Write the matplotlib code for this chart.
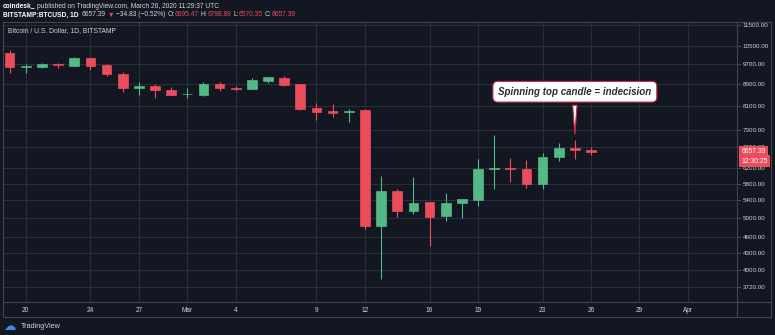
import matplotlib
matplotlib.use("Agg")
import matplotlib.pyplot as plt
import matplotlib.dates as mdates
import matplotlib.transforms as mtransforms
from matplotlib.ticker import NullLocator
import numpy as np
import pandas as pd

plt.rcParams['font.family'] = ['Liberation Sans Narrow', 'Liberation Sans', 'DejaVu Sans']

# daily BTC/USD candles, Bitstamp, 19 Feb - 26 Mar 2020
dates = pd.date_range("2020-02-19", "2020-03-26", freq="D")
opens = [10175, 9590, 9605, 9715, 9650, 9955, 9660, 9305, 8772, 8823, 8697, 8525,
         8500, 8925, 8760, 8735, 9041, 9159, 8900, 8036, 7944, 7887, 7967, 4832,
         5620, 5162, 5359, 5045, 5336, 5406, 6179, 6210, 6185, 5799, 6495, 6773,
         6695.47]
highs = [10320, 9715, 9770, 9743, 10027, 10027, 9700, 9372, 8977, 8900, 8798, 8747,
         8977, 8977, 8849, 9159, 9198, 9225, 8910, 8200, 8176, 8002, 7990, 5995,
         5661, 5969, 5359, 5571, 5440, 6442, 7154, 6470, 6423, 6620, 6903, 7001,
         6798.89]
lows = [9330, 9358, 9535, 9563, 9646, 9467, 9238, 8623, 8500, 8403, 8490, 8403,
        8475, 8647, 8647, 8722, 8951, 8836, 7979, 7622, 7731, 7566, 4765, 3851,
        5030, 5096, 4427, 4944, 5002, 5268, 5661, 5849, 5700, 5670, 6395, 6442,
        6570.35]
closes = [9580, 9646, 9715, 9660, 9955, 9620, 9292, 8772, 8836, 8697, 8500, 8548,
          8925, 8747, 8735, 9080, 9172, 8886, 8013, 7909, 7865, 7944, 4832, 5620,
          5162, 5343, 5024, 5336, 5422, 6179, 6210, 6185, 5799, 6498, 6773, 6692.22,
          6657.39]

price_ticks = [3720, 4000, 4300, 4600, 5000, 5400, 5800, 6200, 6800, 7300, 8100,
               8900, 9700, 10500, 11500]
date_ticks = ["2020-02-20", "2020-02-24", "2020-02-27", "2020-03-01", "2020-03-04",
              "2020-03-09", "2020-03-12", "2020-03-16", "2020-03-19", "2020-03-23",
              "2020-03-26", "2020-03-29", "2020-04-01"]
date_labels = ["20", "24", "27", "Mar", "4", "9", "12", "16", "19", "23", "26", "29", "Apr"]

BG = "#131722"
GRID = "#2a2e39"
BORDER = "#434651"
UP = "#53b987"
DOWN = "#eb4d5c"
TXT = "#d1d4dc"
W, H = 775, 335

fig = plt.figure(figsize=(W / 100, H / 100), dpi=100, facecolor=BG)
ax = fig.add_axes([3 / W, 1 - 302 / H, 734 / W, 280 / H], facecolor=BG)

x = mdates.date2num(dates)
o = np.array(opens)
c = np.array(closes)
cols = np.where(c >= o, UP, DOWN)
ax.vlines(x, lows, highs, colors=cols, lw=0.8, zorder=2)
ax.bar(x, np.abs(c - o), bottom=np.minimum(o, c), width=0.6, color=cols,
       edgecolor=cols, lw=0.5, zorder=3)

ax.set_yscale("log")
ax.set_ylim(3483, 11642)
d0 = mdates.date2num(pd.Timestamp("2020-02-20"))
ax.set_xlim(d0 - 1.41, d0 + 44.04)

ax.yaxis.tick_right()
ax.set_yticks(price_ticks)
ax.set_yticklabels([f"{p:.2f}" for p in price_ticks])
ax.yaxis.set_minor_locator(NullLocator())
ax.set_xticks(mdates.date2num(pd.to_datetime(date_ticks)))
ax.set_xticklabels(date_labels)
ax.grid(True, color=GRID, lw=0.8)
ax.set_axisbelow(True)
for s in ax.spines.values():
    s.set_visible(False)
ax.tick_params(axis="x", length=0, pad=3.5, labelsize=4.7, colors=TXT)
ax.tick_params(axis="y", length=3, width=0.8, pad=1.2, labelsize=4.5, labelcolor=TXT, color=BORDER)

ax.annotate("Bitcoin / U.S. Dollar, 1D, BITSTAMP", xy=(0, 1), xycoords="axes fraction",
            xytext=(5, -9), textcoords="offset pixels", va="center", fontsize=4.9, color=TXT)

# callout
i25 = list(dates).index(pd.Timestamp("2020-03-25"))
ax.annotate("Spinning top candle = indecision", xy=(x[i25], highs[i25] * 1.012),
            xytext=(x[i25], 8620), textcoords="data", ha="center", va="center",
            fontsize=7, fontweight="bold", fontstyle="italic", color="#2a2a2a",
            family="Liberation Sans",
            bbox=dict(boxstyle="round,pad=0.55,rounding_size=0.5", fc="white", ec="#c2283c", lw=0.8),
            arrowprops=dict(arrowstyle="wedge,tail_width=0.45,shrink_factor=0.5",
                            fc="white", ec="#c2283c", lw=0.8), zorder=6)

# last price labels on the price scale
last = closes[-1]
trans = mtransforms.blended_transform_factory(ax.transAxes, ax.transData)
for txt, dy in [(f"{last:.2f}", 0), ("12:30:25", -9.5)]:
    ax.annotate(txt, xy=(1, last), xycoords=trans, xytext=(4.5, dy), textcoords="offset pixels",
                va="center", ha="left", fontsize=4.9, color="white", annotation_clip=False,
                bbox=dict(boxstyle="square,pad=0.35", fc=DOWN, ec="none"), zorder=6)

# frame, header and footer in pixel coordinates
frame = fig.add_axes([0, 0, 1, 1])
frame.set_xlim(0, W)
frame.set_ylim(H, 0)
frame.axis("off")
frame.patch.set_alpha(0)
frame.plot([3, 771, 771, 3, 3], [22, 22, 317, 317, 22], color=BORDER, lw=0.8)
frame.plot([737, 737], [22, 317], color=BORDER, lw=0.8)
frame.plot([3, 771], [302, 302], color=BORDER, lw=0.8)


def chain(parts, x0, y0, size):
    prev = None
    for s, col, wt, gap in parts:
        if prev is None:
            prev = frame.text(x0, y0, s, color=col, fontweight=wt, fontsize=size,
                              va="center", ha="left")
        else:
            prev = frame.annotate(s, xy=(1, 0), xycoords=prev, xytext=(gap, 0),
                                  textcoords="offset pixels", color=col, fontweight=wt,
                                  fontsize=size, va="bottom", ha="left")


chain([("coindesk_", "white", "bold", 0),
       ("published on TradingView.com, March 26, 2020 11:29:37 UTC", TXT, "normal", 2)],
      3, 6, 4.8)

chg = closes[-1] - closes[-2]
pct = chg / closes[-2] * 100
chain([("BITSTAMP:BTCUSD, 1D", "white", "bold", 0),
       (f"{closes[-1]:.2f}", TXT, "normal", 3),
       ("▼", DOWN, "normal", 2),
       (f"\u2212{abs(chg):.2f} (\u2212{abs(pct):.2f}%)", TXT, "normal", 2),
       ("O:", TXT, "normal", 2), (f"{opens[-1]:.2f}", DOWN, "normal", 0),
       ("H:", TXT, "normal", 2), (f"{highs[-1]:.2f}", DOWN, "normal", 0),
       ("L:", TXT, "normal", 2), (f"{lows[-1]:.2f}", DOWN, "normal", 0),
       ("C:", TXT, "normal", 2), (f"{closes[-1]:.2f}", DOWN, "normal", 0)],
      3, 15, 4.8)

frame.text(3, 326, "☁", color="#3d8fe6", family="DejaVu Sans", fontsize=9, va="center")
frame.text(21, 326, "TradingView", color=TXT, fontsize=5.2, va="center")

fig.savefig("out.png", dpi=100, facecolor=BG)
